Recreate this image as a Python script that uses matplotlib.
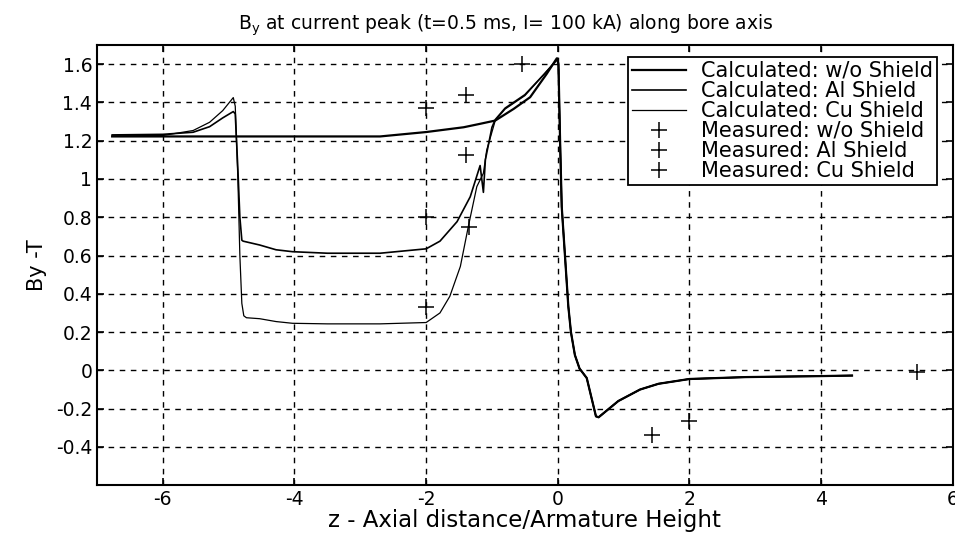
import matplotlib.pyplot as plt
import numpy as np

plt.rcParams['font.family'] = ['DejaVu Sans']

# calculated curves
x_none = [-6.77, -5.0, -4.0, -2.7, -2.0, -1.43, -1.18, -0.95, -0.67, -0.42, -0.17, -0.04, -0.015,
          0.01, 0.035, 0.06, 0.11, 0.16, 0.2, 0.26, 0.33, 0.44, 0.58, 0.62, 0.92, 1.25, 1.53,
          2.0, 2.86, 3.97, 4.47]
y_none = [1.222, 1.222, 1.222, 1.222, 1.245, 1.27, 1.288, 1.305, 1.366, 1.427, 1.548, 1.617, 1.63,
          1.6, 1.2, 0.855, 0.595, 0.335, 0.2, 0.08, 0.01, -0.04, -0.24, -0.245, -0.16, -0.1, -0.07,
          -0.045, -0.035, -0.03, -0.027]

x_al = [-6.77, -6.0, -5.54, -5.29, -5.09, -4.93, -4.9, -4.86, -4.83, -4.8, -4.78, -4.53, -4.28,
        -4.03, -3.5, -2.7, -2.0, -1.79, -1.53, -1.33, -1.18, -1.13, -1.1, -1.0, -0.95, -0.8,
        -0.5, -0.2, -0.02, 0.0, 0.01, 0.035, 0.06, 0.11, 0.16, 0.2, 0.26, 0.33, 0.44, 0.58,
        0.62, 0.92, 1.25, 1.53, 2.0, 2.86, 3.97, 4.47]
y_al = [1.23, 1.233, 1.244, 1.273, 1.319, 1.352, 1.34, 1.05, 0.8, 0.68, 0.675, 0.655, 0.63,
        0.62, 0.612, 0.612, 0.635, 0.675, 0.777, 0.907, 1.07, 0.93, 1.1, 1.27, 1.31, 1.37,
        1.44, 1.55, 1.62, 1.63, 1.6, 1.2, 0.855, 0.595, 0.335, 0.2, 0.08, 0.01, -0.04, -0.24,
        -0.245, -0.16, -0.1, -0.07, -0.045, -0.035, -0.03, -0.027]

x_cu = [-6.77, -6.0, -5.54, -5.29, -5.09, -4.93, -4.9, -4.86, -4.83, -4.8, -4.77, -4.73, -4.53,
        -4.28, -4.03, -3.5, -2.7, -2.0, -1.79, -1.64, -1.48, -1.36, -1.23, -1.13, -1.08, -0.95,
        -0.8, -0.5, -0.2, -0.02, 0.0, 0.01, 0.035, 0.06, 0.11, 0.16, 0.2, 0.26, 0.33, 0.44,
        0.58, 0.62, 0.92, 1.25, 1.53, 2.0, 2.86, 3.97, 4.47]
y_cu = [1.225, 1.227, 1.253, 1.296, 1.357, 1.425, 1.38, 1.0, 0.6, 0.35, 0.285, 0.275, 0.27,
        0.255, 0.246, 0.243, 0.243, 0.25, 0.30, 0.387, 0.543, 0.75, 0.96, 1.03, 1.15, 1.305,
        1.365, 1.435, 1.55, 1.62, 1.63, 1.6, 1.2, 0.855, 0.595, 0.335, 0.2, 0.08, 0.01, -0.04,
        -0.24, -0.245, -0.16, -0.1, -0.07, -0.045, -0.035, -0.03, -0.027]

# measured points
mx_none = [-0.55, -1.39, 1.43, 2.0, 5.46]
my_none = [1.6, 1.44, -0.335, -0.265, -0.01]
mx_al = [-2.0, -1.39, -2.0]
my_al = [1.37, 1.125, 0.80]
mx_cu = [-1.35, -2.0]
my_cu = [0.75, 0.33]

fig = plt.figure(figsize=(9.55, 5.35), dpi=100)
ax = fig.add_axes([0.1016, 0.093, 0.896, 0.823])

ax.plot(x_none, y_none, color="black", lw=1.6, label="Calculated: w/o Shield")
ax.plot(x_al, y_al, color="black", lw=1.2, label="Calculated: Al Shield")
ax.plot(x_cu, y_cu, color="black", lw=0.9, label="Calculated: Cu Shield")
ax.plot(mx_none, my_none, "+", color="black", ms=12, mew=1.1, label="Measured: w/o Shield")
ax.plot(mx_al, my_al, "+", color="black", ms=12, mew=1.1, label="Measured: Al Shield")
ax.plot(mx_cu, my_cu, "+", color="black", ms=12, mew=1.1, label="Measured: Cu Shield")

ax.set_xlim(-7, 6)
ax.set_ylim(-0.6, 1.7)
ax.set_xticks([-6, -4, -2, 0, 2, 4, 6])
ax.set_xticklabels(["-6", "-4", "-2", "0", "2", "4", "6"])
ax.set_yticks([-0.4, -0.2, 0, 0.2, 0.4, 0.6, 0.8, 1, 1.2, 1.4, 1.6])
ax.set_yticklabels(["-0.4", "-0.2", "0", "0.2", "0.4", "0.6", "0.8", "1", "1.2", "1.4", "1.6"])
ax.tick_params(labelsize=13.5, direction="in", length=5, width=1.2, top=True, right=True)
ax.grid(True, color="black", linestyle=(0, (4, 4)), linewidth=1.0)
for s in ax.spines.values():
    s.set_linewidth(1.5)

ax.set_title("B$_\\mathregular{y}$ at current peak (t=0.5 ms, I= 100 kA) along bore axis",
             fontsize=13.5, pad=11, x=0.478)
ax.set_xlabel("z - Axial distance/Armature Height", fontsize=16.5, labelpad=0)
ax.set_ylabel("By -T", fontsize=15, labelpad=6)

leg = ax.legend(loc="upper right", fontsize=15, frameon=True, fancybox=False,
                edgecolor="black", framealpha=1, borderpad=0.2, labelspacing=0.0,
                handlelength=2.6, handletextpad=0.7, bbox_to_anchor=(0.994, 0.997))
leg.get_frame().set_linewidth(1.3)

fig.savefig("out.png", dpi=100)
